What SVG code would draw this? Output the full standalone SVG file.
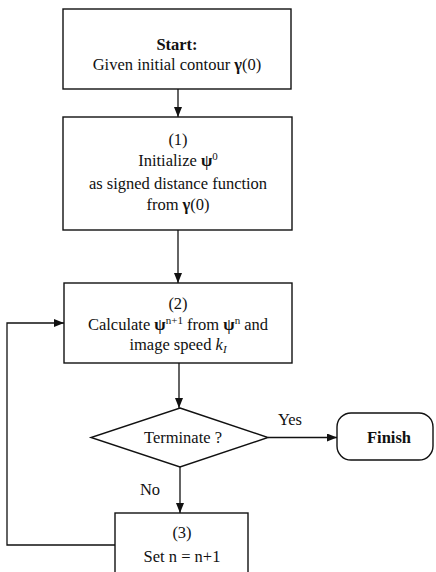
<svg xmlns="http://www.w3.org/2000/svg" width="436" height="572" viewBox="0 0 436 572">
<defs>
<marker id="ah" markerWidth="10" markerHeight="8" refX="10" refY="4" orient="auto" markerUnits="userSpaceOnUse">
<path d="M0,0 L10,4 L0,8 Z" fill="#111"/>
</marker>
<style>
.box{fill:#fff;stroke:#111;stroke-width:1.4}
.ln{fill:none;stroke:#111;stroke-width:1.3}
text{font-family:"Liberation Serif","Times New Roman",serif;font-size:16.5px;fill:#111;text-anchor:middle}
.b{font-weight:bold}
.sup{font-size:11px}
</style>
</defs>
<rect width="436" height="572" fill="#fff"/>
<g id="start">
<rect class="box" x="63" y="9" width="228" height="80"/>
<text x="177" y="50" class="b">Start:</text>
<text x="177" y="70">Given initial contour <tspan class="b">γ</tspan>(0)</text>
</g>
<g id="step1">
<rect class="box" x="63" y="117" width="229" height="113"/>
<text x="178" y="145">(1)</text>
<text x="178" y="166">Initialize <tspan class="b">ψ</tspan><tspan class="sup" dy="-6">0</tspan></text>
<text x="178" y="189">as signed distance function</text>
<text x="178" y="210">from <tspan class="b">γ</tspan>(0)</text>
</g>
<g id="step2">
<rect class="box" x="64" y="283" width="228" height="80"/>
<text x="178" y="309">(2)</text>
<text x="178" y="330">Calculate <tspan class="b">ψ</tspan><tspan class="sup" dy="-6">n+1</tspan><tspan dy="6"> from </tspan><tspan class="b">ψ</tspan><tspan class="sup" dy="-6">n</tspan><tspan dy="6"> and</tspan></text>
<text x="178" y="350">image speed <tspan font-style="italic">k</tspan><tspan class="sup" font-style="italic" dy="3">I</tspan></text>
</g>
<g id="terminate">
<polygon class="box" points="180,408 268,437.5 180,467 91,437.5"/>
<text x="183" y="443">Terminate ?</text>
</g>
<g id="finish">
<rect class="box" x="337" y="413" width="96" height="47" rx="14" ry="14"/>
<text x="389" y="443" class="b">Finish</text>
</g>
<g id="step3">
<rect class="box" x="115" y="513" width="133" height="70"/>
<text x="182" y="538">(3)</text>
<text x="182" y="562">Set n = n+1</text>
</g>
<g id="connectors">
<line class="ln" x1="178" y1="89" x2="178" y2="117" marker-end="url(#ah)"/>
<line class="ln" x1="178" y1="230" x2="178" y2="283" marker-end="url(#ah)"/>
<line class="ln" x1="179" y1="363" x2="179" y2="408" marker-end="url(#ah)"/>
<line class="ln" x1="268" y1="437.5" x2="337" y2="437.5" marker-end="url(#ah)"/>
<line class="ln" x1="180" y1="467" x2="180" y2="513" marker-end="url(#ah)"/>
<polyline class="ln" points="115,545 7,545 7,323 64,323" marker-end="url(#ah)"/>
<text x="290" y="425">Yes</text>
<text x="150" y="495">No</text>
</g>
</svg>
